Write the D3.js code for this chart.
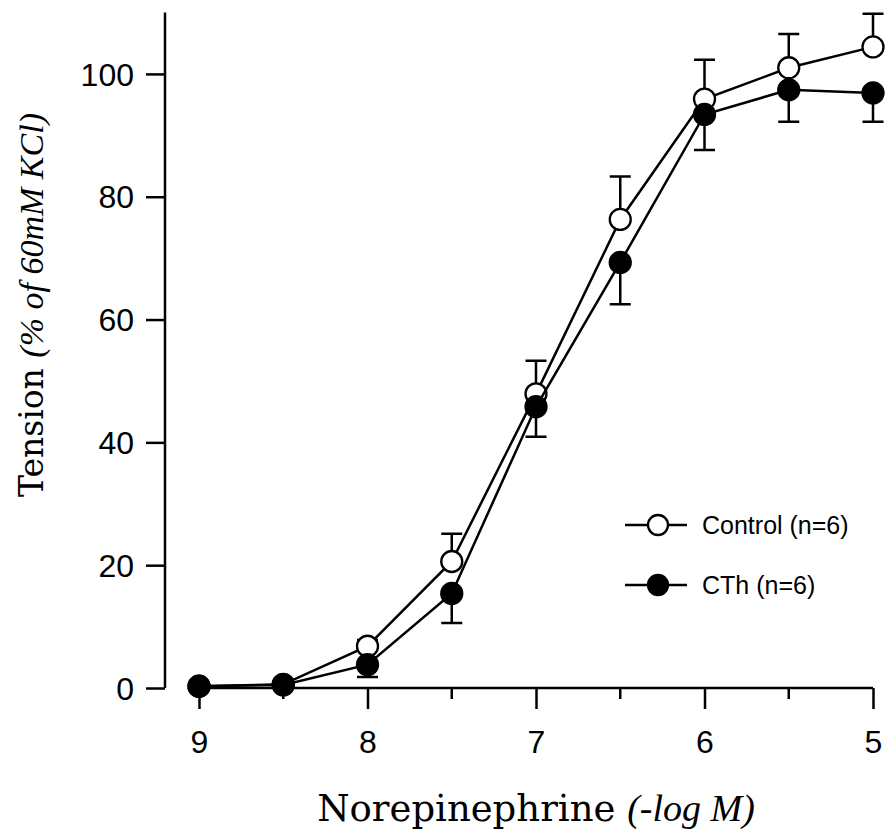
<!DOCTYPE html>
<html>
<head>
<meta charset="utf-8" />
<title>Norepinephrine</title>
<script src="https://d3js.org/d3.v7.min.js"></script>
<style>
  body { margin: 0; background: #fff; }
</style>
</head>
<body>
<svg width="886" height="832" id="svg1"></svg>
<script>
// -log M concentrations
var doses = [9, 8.5, 8, 7.5, 7, 6.5, 6, 5.5, 5];
var controlMean = [0.3, 0.6, 6.8, 20.6, 47.9, 76.3, 95.9, 101.0, 104.4];
var controlSem  = [0.2, 0.3, 1.0, 4.5, 5.4, 7.0, 6.4, 5.5, 5.4];
var cthMean = [0.3, 0.5, 3.8, 15.4, 45.8, 69.3, 93.4, 97.4, 96.9];
var cthSem  = [0.2, 0.3, 2.0, 4.8, 4.9, 6.8, 5.8, 5.2, 4.7];
var yTicks = [0, 20, 40, 60, 80, 100];
var xMajor = [9, 8, 7, 6, 5];
var xMinor = [8.5, 7.5, 6.5, 5.5];
var legendLabels = ["Control (n=6)", "CTh (n=6)"];

var svg = d3.select("#svg1");
var x = d3.scaleLinear().domain([9, 5]).range([199, 873]);
var y = d3.scaleLinear().domain([0, 110]).range([688, 12.5]);
var yAxisX = 165;

var ink = "#000";
var sans = "'Liberation Sans', Arial, sans-serif";

// y axis
var gy = svg.append("g").attr("transform", "translate(" + yAxisX + ",0)")
  .call(d3.axisLeft(y).tickValues(yTicks).tickSize(19).tickPadding(12).tickFormat(d3.format("d")));
gy.select(".domain").attr("d", "M0," + y(0) + "V" + y(110)).attr("stroke-width", 2.5);
gy.selectAll(".tick line").attr("stroke-width", 2.5);
gy.selectAll(".tick text").attr("font-family", sans).attr("font-size", 32).attr("fill", ink).attr("dy", "0.35em");

// x axis
var gx = svg.append("g").attr("transform", "translate(0," + y(0) + ")")
  .call(d3.axisBottom(x).tickValues(xMajor).tickSize(21).tickPadding(21).tickFormat(d3.format("d")));
gx.select(".domain").attr("d", "M" + x(9) + ",0H" + x(5)).attr("stroke-width", 2.5);
gx.selectAll(".tick line").attr("stroke-width", 2.5);
gx.selectAll(".tick text").attr("font-family", sans).attr("font-size", 32).attr("fill", ink);
gx.selectAll(".minor").data(xMinor).enter().append("line")
  .attr("class", "minor")
  .attr("x1", function(d) { return x(d); }).attr("x2", function(d) { return x(d); })
  .attr("y1", 0).attr("y2", 11)
  .attr("stroke", ink).attr("stroke-width", 2.5);

// axis titles
svg.append("text")
  .attr("transform", "translate(43,305) rotate(-90)")
  .attr("text-anchor", "middle")
  .attr("fill", ink)
  .call(function(t) {
    t.append("tspan").attr("font-family", "'DejaVu Serif', serif").attr("font-size", 33).text("Tension ");
    t.append("tspan").attr("font-family", "'Liberation Serif', serif").attr("font-style", "italic").attr("font-size", 34).text("(% of 60mM KCl)");
  });

svg.append("text")
  .attr("x", 536).attr("y", 821)
  .attr("text-anchor", "middle")
  .attr("fill", ink)
  .call(function(t) {
    t.append("tspan").attr("font-family", "'DejaVu Serif', serif").attr("font-size", 37).text("Norepinephrine ");
    t.append("tspan").attr("font-family", "'Liberation Serif', serif").attr("font-style", "italic").attr("font-size", 38).text("(-log M)");
  });

// series
var series = [
  { mean: controlMean, sem: controlSem, dir: 1, fill: "#fff" },
  { mean: cthMean, sem: cthSem, dir: -1, fill: "#000" }
];

var line = d3.line()
  .x(function(d) { return x(d[0]); })
  .y(function(d) { return y(d[1]); });

series.forEach(function(s) {
  var pts = doses.map(function(d, i) { return [d, s.mean[i], s.sem[i]]; });
  var g = svg.append("g");
  // error bars (one-sided)
  g.selectAll(".err").data(pts).enter().append("path")
    .attr("d", function(d) {
      var yy = y(d[1] + s.dir * d[2]);
      return "M" + x(d[0]) + "," + y(d[1]) + "V" + yy + "M" + (x(d[0]) - 10.5) + "," + yy + "H" + (x(d[0]) + 10.5);
    })
    .attr("fill", "none").attr("stroke", ink).attr("stroke-width", 2.5);
  g.append("path").datum(pts)
    .attr("d", line)
    .attr("fill", "none").attr("stroke", ink).attr("stroke-width", 2.5);
  s.g = g;
  s.pts = pts;
});

series.forEach(function(s) {
  s.g.selectAll("circle").data(s.pts).enter().append("circle")
    .attr("cx", function(d) { return x(d[0]); })
    .attr("cy", function(d) { return y(d[1]); })
    .attr("r", 10.5)
    .attr("fill", s.fill).attr("stroke", ink).attr("stroke-width", 2.3);
});

// legend
var legend = svg.append("g").attr("transform", "translate(625,525)");
legendLabels.forEach(function(lab, i) {
  var row = legend.append("g").attr("transform", "translate(0," + (i * 60) + ")");
  row.append("line").attr("x1", 0).attr("x2", 62).attr("y1", 0).attr("y2", 0)
    .attr("stroke", ink).attr("stroke-width", 2.5);
  row.append("circle").attr("cx", 33).attr("cy", 0).attr("r", 10)
    .attr("fill", series[i].fill).attr("stroke", ink).attr("stroke-width", 2.3);
  row.append("text").attr("x", 77).attr("y", 0).attr("dy", "0.35em")
    .attr("font-family", sans).attr("font-size", 25).attr("fill", ink).text(lab);
});
</script>
</body>
</html>
